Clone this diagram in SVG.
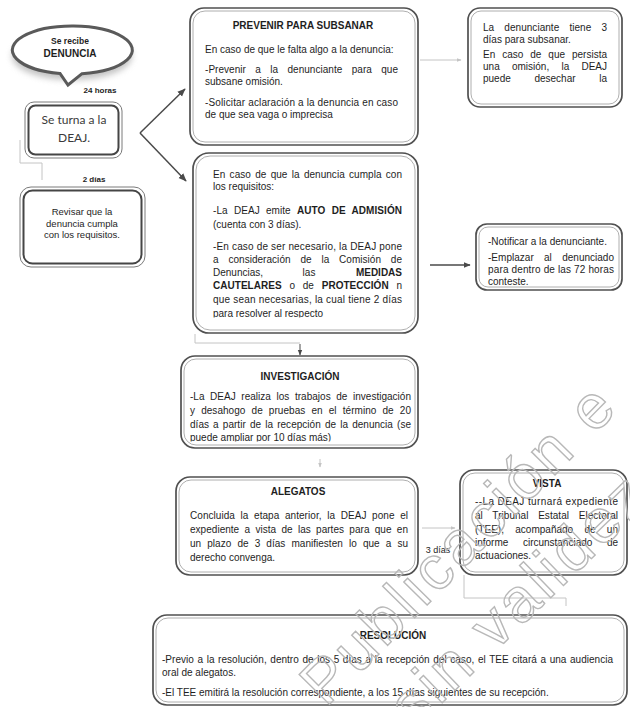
<svg xmlns="http://www.w3.org/2000/svg" width="630" height="707" viewBox="0 0 630 707">
<style>
.t{font-family:"Liberation Sans",Arial,sans-serif;font-size:10px;fill:#1e1e1e}
.b{font-weight:bold}
.s9{font-size:9px}
.s8{font-size:8px}
.c{text-anchor:middle}
.e{text-anchor:end}
.cal{font-family:Lato,"Open Sans",sans-serif;font-size:12px;fill:#3a3a3a}
.box{fill:#fff;stroke:#505050;stroke-width:1.7}
.in{fill:none;stroke:#9a9a9a;stroke-width:0.8}
.ob{fill:#fff;stroke:#7a7a7a;stroke-width:1}
.ib{fill:none;stroke:#454545;stroke-width:2}
.dk{fill:none;stroke:#4a4a4a;stroke-width:1.5}
.lt{fill:none;stroke:#c4c4c4;stroke-width:1}
.wm{font-family:"Liberation Sans",Arial,sans-serif;font-size:62px;fill:none;stroke:#b8b8b8;stroke-width:1.4;letter-spacing:4px}
</style>
<defs>
<marker id="ad" viewBox="0 0 10 10" refX="9" refY="5" markerWidth="5.5" markerHeight="5.5" orient="auto"><path d="M0,1 L10,5 L0,9 Z" fill="#4a4a4a"/></marker>
<marker id="al" viewBox="0 0 10 10" refX="9" refY="5" markerWidth="5" markerHeight="5" orient="auto"><path d="M0,1 L10,5 L0,9 Z" fill="#c4c4c4"/></marker>
<filter id="sh" x="-20%" y="-20%" width="140%" height="160%"><feGaussianBlur stdDeviation="3"/></filter>
<clipPath id="cm"><rect x="193" y="153" width="225" height="164.5"/></clipPath>
<clipPath id="ci"><rect x="181" y="356" width="237" height="85.5"/></clipPath>
</defs>
<rect width="630" height="707" fill="#fff"/>

<g id="connectors">
<path class="lt" d="M20,140 V163 H42 V180"/>
<path class="dk" d="M140,133 L185,89" marker-end="url(#ad)"/>
<path class="dk" d="M140,133 L186,181" marker-end="url(#ad)"/>
<path class="lt" d="M420,60 H461" marker-end="url(#al)"/>
<path class="dk" style="stroke-width:1.3" d="M430,265 H470" marker-end="url(#ad)"/>
<path class="lt" d="M195,334 V343 H300"/>
<path class="dk" style="stroke-width:1" d="M300,344 V355" marker-end="url(#ad)"/>
<path class="lt" d="M320,459 V467" marker-end="url(#al)"/>
<path class="lt" d="M422,528 H455" marker-end="url(#al)"/>
<path class="lt" d="M464,575 V598 H566 V606"/>
<text class="t b s8 c" x="100" y="93">24 horas</text>
<text class="t b s8 c" x="94" y="182">2 días</text>
<text class="t s9 c" x="438" y="553">3 días</text>
</g>

<g id="n-denuncia">
<ellipse cx="72" cy="56" rx="60" ry="24" fill="#9a9a9a" opacity="0.6" filter="url(#sh)"/>
<path d="M60,73.5 A60,24 0 1 1 82,73.7 L68,85 Z" fill="#fff" stroke="#5a5a5a" stroke-width="3"/>
<text class="t b c" style="font-size:8.5px" x="70" y="44">Se recibe</text>
<text class="t b c" x="70" y="57">DENUNCIA</text>
</g>

<g id="n-turna">
<rect class="ob" x="25" y="102" width="97" height="56" rx="9"/>
<rect class="ib" x="28.5" y="105.5" width="90" height="49" rx="7"/>
<text class="cal c" x="74" y="124">Se turna a la</text>
<text class="cal c" x="74" y="142">DEAJ.</text>
</g>

<g id="n-revisar">
<rect class="ob" x="20" y="187" width="125" height="80" rx="11"/>
<rect class="ib" x="23.5" y="190.5" width="118" height="73" rx="9"/>
<text class="t c" style="font-size:9.5px" x="82" y="215">Revisar que la</text>
<text class="t c" style="font-size:9.5px" x="82" y="226.5">denuncia cumpla</text>
<text class="t c" style="font-size:9.5px" x="82" y="238">con los requisitos.</text>
</g>

<g id="n-prevenir">
<rect class="box" x="190" y="8" width="228" height="137" rx="14"/>
<rect class="in" x="193" y="11" width="222" height="131" rx="12"/>
<text class="t b c" x="303" y="29">PREVENIR PARA SUBSANAR</text>
<text class="t" x="205" y="53">En caso de que le falta algo a la denuncia:</text>
<text class="t" x="205" y="73" textLength="193" lengthAdjust="spacing" style="word-spacing:6.5px">-Prevenir a la denunciante para que</text>
<text class="t" x="205" y="85">subsane omisión.</text>
<text class="t" x="205" y="106" textLength="193" lengthAdjust="spacing">-Solicitar aclaración a la denuncia en caso</text>
<text class="t" x="205" y="118">de que sea vaga o imprecisa</text>
</g>

<g id="n-subsanar">
<rect class="box" x="468" y="8" width="154" height="99" rx="12"/>
<rect class="in" x="471" y="11" width="148" height="93" rx="10"/>
<text class="t" x="483" y="31" textLength="124" lengthAdjust="spacing" style="word-spacing:7.3px">La denunciante tiene 3</text>
<text class="t" x="483" y="43">días para subsanar.</text>
<text class="t" x="483" y="58" textLength="124" lengthAdjust="spacing" style="word-spacing:4.2px">En caso de que persista</text>
<text class="t" x="483" y="70" textLength="124" lengthAdjust="spacing" style="word-spacing:9.4px">una omisión, la DEAJ</text>
<text class="t" x="483" y="82">puede</text>
<text class="t c" x="555" y="82">desechar</text>
<text class="t e" x="607" y="82">la</text>
</g>

<g id="n-admision">
<rect class="box" x="193" y="153" width="225" height="180" rx="16"/>
<rect class="in" x="196" y="156" width="219" height="174" rx="14"/>
<text class="t" x="213" y="177.5" textLength="189" lengthAdjust="spacing" style="word-spacing:1.5px">En caso de que la denuncia cumpla con</text>
<text class="t" x="213" y="189.5">los requisitos:</text>
<text class="t" x="213" y="213.5" textLength="189" lengthAdjust="spacing" style="word-spacing:3.4px">-La DEAJ emite <tspan class="b">AUTO DE ADMISIÓN</tspan></text>
<text class="t" x="213" y="227.5">(cuenta con 3 días).</text>
<text class="t" x="213" y="249.5" textLength="189" lengthAdjust="spacing">-En caso de ser necesario, la DEAJ pone</text>
<text class="t" x="213" y="262.5" textLength="189" lengthAdjust="spacing" style="word-spacing:7px">a consideración de la Comisión de</text>
<text class="t" x="213" y="275.5">Denuncias,</text>
<text class="t c" x="309" y="275.5">las</text>
<text class="t b e" x="402" y="275.5">MEDIDAS</text>
<text class="t" x="213" y="288.5" textLength="189" lengthAdjust="spacing" style="word-spacing:5px"><tspan class="b">CAUTELARES</tspan> o de <tspan class="b">PROTECCIÓN</tspan> n</text>
<text class="t" x="213" y="302.5" textLength="189" lengthAdjust="spacing">que sean necesarias, la cual tiene 2 días</text>
<text class="t" x="213" y="316.5" clip-path="url(#cm)">para resolver al respecto</text>
</g>

<g id="n-notificar">
<rect class="box" x="476" y="224" width="146" height="66" rx="11"/>
<rect class="in" x="479" y="227" width="140" height="60" rx="9"/>
<text class="t" x="488" y="245">-Notificar a la denunciante.</text>
<text class="t" x="488" y="261" textLength="126" lengthAdjust="spacing" style="word-spacing:7.5px">-Emplazar al denunciado</text>
<text class="t" x="488" y="273" textLength="126" lengthAdjust="spacing">para dentro de las 72 horas</text>
<text class="t" x="488" y="285">conteste.</text>
</g>

<g id="n-investigacion">
<rect class="box" x="181" y="356" width="237" height="92" rx="14"/>
<rect class="in" x="184" y="359" width="231" height="86" rx="12"/>
<text class="t b c" x="300" y="380">INVESTIGACIÓN</text>
<text class="t" x="190" y="399.5" textLength="221" lengthAdjust="spacing" style="word-spacing:2.8px">-La DEAJ realiza los trabajos de investigación</text>
<text class="t" x="190" y="413.5" textLength="221" lengthAdjust="spacing" style="word-spacing:3.3px">y desahogo de pruebas en el término de 20</text>
<text class="t" x="190" y="427.5" textLength="221" lengthAdjust="spacing" style="word-spacing:1.3px">días a partir de la recepción de la denuncia (se</text>
<text class="t" x="190" y="440.5" clip-path="url(#ci)">puede ampliar por 10 días más)</text>
</g>

<g id="n-alegatos">
<rect class="box" x="176" y="477" width="242" height="98" rx="14"/>
<rect class="in" x="179" y="480" width="236" height="92" rx="12"/>
<text class="t b c" x="298" y="495">ALEGATOS</text>
<text class="t" x="190" y="518.5" textLength="218" lengthAdjust="spacing" style="word-spacing:2.8px">Concluida la etapa anterior, la DEAJ pone el</text>
<text class="t" x="190" y="532.5" textLength="218" lengthAdjust="spacing" style="word-spacing:2.5px">expediente a vista de las partes para que en</text>
<text class="t" x="190" y="546.5" textLength="218" lengthAdjust="spacing" style="word-spacing:3.3px">un plazo de 3 días manifiesten lo que a su</text>
<text class="t" x="190" y="560.5">derecho convenga.</text>
</g>

<g id="n-vista">
<rect class="box" x="460" y="470" width="167" height="105" rx="14"/>
<rect class="in" x="463" y="473" width="161" height="99" rx="12"/>
<text class="t b c" x="547" y="487">VISTA</text>
<text class="t" x="475" y="505" textLength="143" lengthAdjust="spacing">--La DEAJ turnará expediente</text>
<text class="t" x="475" y="519" textLength="143" lengthAdjust="spacing" style="word-spacing:6.8px">al Tribunal Estatal Electoral</text>
<text class="t" x="475" y="533" textLength="143" lengthAdjust="spacing" style="word-spacing:8.5px">(TEE), acompañado de un</text>
<text class="t" x="475" y="546" textLength="143" lengthAdjust="spacing" style="word-spacing:11.8px">informe circunstanciado de</text>
<text class="t" x="475" y="559">actuaciones.</text>
</g>

<g id="n-resolucion">
<rect class="box" x="153" y="615" width="474" height="90" rx="14"/>
<rect class="in" x="156" y="618" width="468" height="84" rx="12"/>
<text class="t b c" x="393" y="639">RESOLUCIÓN</text>
<text class="t" x="162" y="663" textLength="451" lengthAdjust="spacing" style="word-spacing:0.8px">-Previo a la resolución, dentro de los 5 días a la recepción del caso, el TEE citará a una audiencia</text>
<text class="t" x="162" y="676">oral de alegatos.</text>
<text class="t" x="162" y="696">-El TEE emitirá la resolución correspondiente, a los 15 días siguientes de su recepción.</text>
</g>

<g id="watermark">
<text class="wm" transform="translate(326,708) rotate(-45.5)">Publicación e</text>
<text class="wm" transform="translate(414,730) rotate(-44)">sin validez</text>
</g>
</svg>
